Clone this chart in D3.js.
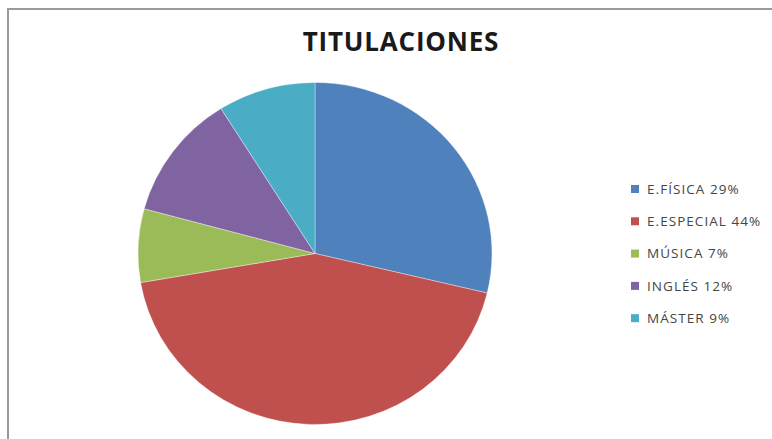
<!DOCTYPE html>
<html>
<head>
<meta charset="utf-8">
<script src="https://cdn.jsdelivr.net/npm/d3@7/dist/d3.min.js"></script>
<style>
  html, body { margin: 0; padding: 0; background: #fff; }
  svg { display: block; }
</style>
</head>
<body>
<svg id="chart" width="772" height="439"></svg>
<script>
// Titulaciones: share of each degree
const categories = ["E.FÍSICA", "E.ESPECIAL", "MÚSICA", "INGLÉS", "MÁSTER"];
const values = [29, 44, 7, 12, 9];
const colors = ["#4F81BD", "#C0504D", "#9BBB59", "#8064A2", "#4BACC6"];
const title = "TITULACIONES";

const svg = d3.select("#chart");
const W = 772, H = 439;

// chart area frame
svg.append("rect")
  .attr("x", 8).attr("y", 9)
  .attr("width", W + 10).attr("height", H + 10)
  .attr("fill", "#fff")
  .attr("stroke", "#9a9a9a")
  .attr("stroke-width", 2);

svg.append("text")
  .attr("x", 401).attr("y", 51)
  .attr("text-anchor", "middle")
  .attr("font-family", "'Open Sans', sans-serif")
  .attr("font-weight", "bold")
  .attr("font-size", 26)
  .attr("letter-spacing", 0.8)
  .attr("fill", "#1a1a1a")
  .text(title);

const data = categories.map((c, i) => ({ name: c, value: values[i], color: colors[i] }));

const pie = d3.pie().value(d => d.value).sort(null);
const r = 171;
const arc = d3.arc().innerRadius(0).outerRadius(r);

const g = svg.append("g")
  .attr("transform", `translate(315,253.5) scale(1.035,1)`);

g.selectAll("path")
  .data(pie(data))
  .join("path")
  .attr("d", arc)
  .attr("fill", d => d.data.color)
  .attr("stroke", "rgba(255,255,255,0.45)")
  .attr("stroke-width", 0.8);

// legend
const legend = svg.append("g").attr("transform", "translate(631,189)");
const rowH = 32.3;
const item = legend.selectAll("g")
  .data(data)
  .join("g")
  .attr("transform", (d, i) => `translate(0,${i * rowH})`);

item.append("rect")
  .attr("x", 0).attr("y", -4)
  .attr("width", 8).attr("height", 8)
  .attr("fill", d => d.color);

item.append("text")
  .attr("x", 16).attr("y", 0)
  .attr("dy", "0.36em")
  .attr("font-family", "'Open Sans', sans-serif")
  .attr("font-size", 13.5)
  .attr("letter-spacing", 1.05)
  .attr("fill", "#454545")
  .text(d => `${d.name} ${d.value}%`);
</script>
</body>
</html>
